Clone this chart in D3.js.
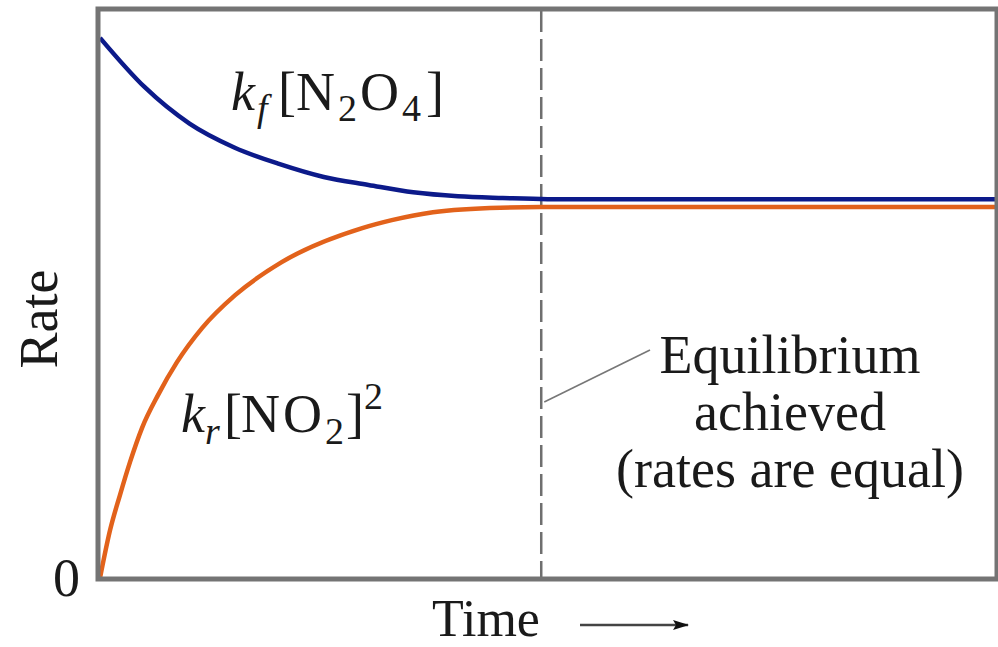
<!DOCTYPE html>
<html>
<head>
<meta charset="utf-8">
<script src="https://cdn.jsdelivr.net/npm/d3@7"></script>
<style>
  html, body { margin: 0; padding: 0; background: #fff; }
  svg { display: block; }
  text { font-family: "Liberation Serif", "DejaVu Serif", serif; fill: #1a1a1a; }
</style>
</head>
<body>
<svg id="chart" width="998" height="647"></svg>
<script>
// ---- data ----
const timeForward = [0, 5, 10, 15, 20, 25, 30, 35, 40, 45, 50, 100];
const rateForward = [95.1, 86.4, 80.0, 75.8, 72.9, 70.6, 69.2, 67.9, 67.2, 66.9, 66.7, 66.7];
const timeReverse = [0, 1.12, 2.23, 3.35, 4.69, 6.48, 8.6, 11.4, 15.1, 20.3, 29.3, 32.6, 37.2, 44.7, 49.2, 100];
const rateReverse = [0, 8.4, 14.6, 20.4, 26.4, 32.2, 38.0, 44.0, 49.8, 55.6, 61.6, 63.0, 64.4, 65.2, 65.3, 65.3];
const equilibriumTime = [49.3];
const yTickValues = [0];
const yTickLabels = ["0"];

// ---- layout ----
const svg = d3.select("#chart");
const pL = 100, pR = 995, pT = 10, pB = 578;
const x = d3.scaleLinear().domain([0, 100]).range([pL, pR]);
const y = d3.scaleLinear().domain([0, 100]).range([pB, pT]);

const defs = svg.append("defs");
defs.append("clipPath").attr("id", "clip")
  .append("rect").attr("x", pL - 2).attr("y", pT - 1).attr("width", pR - pL + 4).attr("height", pB - pT + 1);

// y axis (only "0")
const yAxis = d3.axisLeft(y).tickValues(yTickValues).tickFormat((d, i) => yTickLabels[i]).tickSize(0).tickPadding(18);
const gy = svg.append("g").attr("transform", `translate(${pL - 2},0)`).call(yAxis);
gy.select(".domain").remove();
gy.selectAll("text").style("font-family", "Liberation Serif, serif").style("font-size", "54px").attr("fill", "#1a1a1a");

// x axis without ticks
const xAxis = d3.axisBottom(x).tickValues([]).tickSize(0);
const gx = svg.append("g").attr("transform", `translate(0,${pB})`).call(xAxis);
gx.select(".domain").remove();

const plot = svg.append("g").attr("clip-path", "url(#clip)");

// equilibrium dashed line
plot.selectAll(".eq").data(equilibriumTime).enter().append("line")
  .attr("x1", d => x(d)).attr("x2", d => x(d))
  .attr("y1", pT).attr("y2", pB)
  .attr("stroke", "#6f6f6f").attr("stroke-width", 2.5)
  .attr("stroke-dasharray", "22,7");

const line = d3.line().x(d => x(d[0])).y(d => y(d[1])).curve(d3.curveMonotoneX);

plot.append("path")
  .datum(timeReverse.map((t, i) => [t, rateReverse[i]]))
  .attr("d", line).attr("fill", "none")
  .attr("stroke", "#e2621b").attr("stroke-width", 4.5);

plot.append("path")
  .datum(timeForward.map((t, i) => [t, rateForward[i]]))
  .attr("d", line).attr("fill", "none")
  .attr("stroke", "#0c1a8a").attr("stroke-width", 4.5);

// frame
svg.append("rect")
  .attr("x", pL - 2).attr("y", pT - 1)
  .attr("width", pR - pL + 4).attr("height", pB - pT + 2)
  .attr("fill", "none").attr("stroke", "#747474").attr("stroke-width", 5);

// axis titles
svg.append("text")
  .attr("transform", "translate(57,319) rotate(-90)")
  .attr("text-anchor", "middle").style("font-size", "54px").text("Rate");

svg.append("text").attr("x", 432).attr("y", 636).style("font-size", "52px").text("Time");

// arrow
defs.append("marker").attr("id", "arrow").attr("viewBox", "0 0 16 12")
  .attr("refX", 15).attr("refY", 6).attr("markerWidth", 16).attr("markerHeight", 12)
  .attr("markerUnits", "userSpaceOnUse").attr("orient", "auto")
  .append("path").attr("d", "M0,1 L16,6 L0,11 L3,6 Z").attr("fill", "#111");
svg.append("line").attr("x1", 580).attr("x2", 688).attr("y1", 625).attr("y2", 625)
  .attr("stroke", "#444").attr("stroke-width", 2.5).attr("marker-end", "url(#arrow)");

// curve labels
const lf = svg.append("text").attr("y", 110).style("font-size", "54px");
lf.append("tspan").attr("x", 231).style("font-style", "italic").text("k");
lf.append("tspan").attr("x", 257).style("font-style", "italic").style("font-size", "38px").attr("dy", 11).text("f");
lf.append("tspan").attr("x", 278).attr("dy", -11).text("[N");
lf.append("tspan").attr("x", 338).style("font-size", "38px").attr("dy", 11).text("2");
lf.append("tspan").attr("x", 360).attr("dy", -11).text("O");
lf.append("tspan").attr("x", 402).style("font-size", "38px").attr("dy", 11).text("4");
lf.append("tspan").attr("x", 426).attr("dy", -11).text("]");

const lr = svg.append("text").attr("y", 432).style("font-size", "54px");
lr.append("tspan").attr("x", 181).style("font-style", "italic").text("k");
lr.append("tspan").attr("x", 205).style("font-style", "italic").style("font-size", "38px").attr("dy", 12).text("r");
lr.append("tspan").attr("x", 224).attr("dy", -12).text("[");
lr.append("tspan").attr("x", 241).text("N");
lr.append("tspan").attr("x", 283).text("O");
lr.append("tspan").attr("x", 325).style("font-size", "38px").attr("dy", 12).text("2");
lr.append("tspan").attr("x", 346).attr("dy", -12).text("]");
lr.append("tspan").attr("x", 364).style("font-size", "38px").attr("dy", -23).text("2");

// annotation
svg.append("line").attr("x1", x(equilibriumTime[0]) + 3).attr("y1", 402).attr("x2", 650).attr("y2", 350)
  .attr("stroke", "#777").attr("stroke-width", 1.6);
const ann = ["Equilibrium", "achieved", "(rates are equal)"];
svg.selectAll(".ann").data(ann).enter().append("text")
  .attr("x", 790).attr("y", (d, i) => 373 + i * 57)
  .attr("text-anchor", "middle").style("font-size", "54px").text(d => d);
</script>
</body>
</html>
